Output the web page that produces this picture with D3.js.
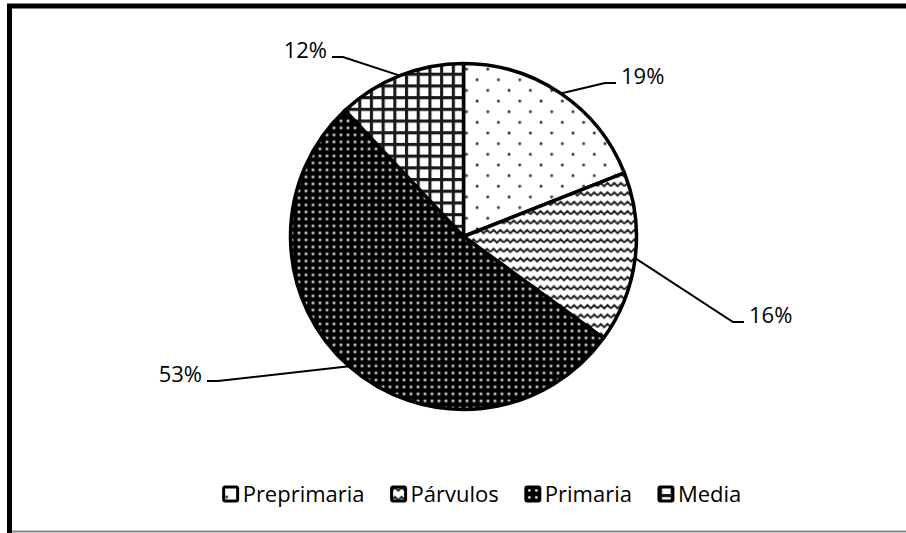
<!DOCTYPE html>
<html>
<head>
<meta charset="utf-8">
<script src="https://cdn.jsdelivr.net/npm/d3@7"></script>
<style>
  body { margin: 0; background: #fff; }
  text { font-family: "Open Sans", sans-serif; fill: #000; }
</style>
</head>
<body>
<div id="chart"></div>
<script>
var categories = ["Preprimaria", "Párvulos", "Primaria", "Media"];
var values = [19, 16, 53, 12];
var pctLabels = ["19%", "16%", "53%", "12%"];

function init(){
    var w = 906;
    var h = 533;
    var cx = 463.5, cy = 236.5, r = 173;
    var patterns = ["pDots", "pWave", "pDark", "pGrid"];

    var svg = d3.select("#chart")
                .append("svg")
                .attr("width", w)
                .attr("height", h);

    var defs = svg.append("defs");

    // light dots, staggered
    var p1 = defs.append("pattern").attr("id", "pDots")
        .attr("patternUnits", "userSpaceOnUse")
        .attr("width", 21.3).attr("height", 21.3);
    p1.append("rect").attr("width", 21.3).attr("height", 21.3).attr("fill", "#fff");
    p1.append("circle").attr("cx", 3).attr("cy", 3).attr("r", 1.5).attr("fill", "#333");
    p1.append("circle").attr("cx", 13.65).attr("cy", 13.65).attr("r", 1.5).attr("fill", "#333");

    // wave
    var p2 = defs.append("pattern").attr("id", "pWave")
        .attr("patternUnits", "userSpaceOnUse")
        .attr("width", 13.4).attr("height", 9.4);
    p2.append("rect").attr("width", 13.4).attr("height", 9.4).attr("fill", "#fff");
    p2.append("path").attr("d", "M0,6.2 L3.35,2.8 L6.7,6.2 L10.05,2.8 L13.4,6.2")
        .attr("fill", "none").attr("stroke", "#222").attr("stroke-width", 2);

    // dark with white dots
    var p3 = defs.append("pattern").attr("id", "pDark")
        .attr("patternUnits", "userSpaceOnUse")
        .attr("width", 7).attr("height", 7);
    p3.append("rect").attr("width", 7).attr("height", 7).attr("fill", "#000");
    p3.append("circle").attr("cx", 3.5).attr("cy", 3.5).attr("r", 1.4).attr("fill", "#d8d8d8");

    // grid
    var p4 = defs.append("pattern").attr("id", "pGrid")
        .attr("patternUnits", "userSpaceOnUse")
        .attr("width", 11.7).attr("height", 11.7);
    p4.append("rect").attr("width", 11.7).attr("height", 11.7).attr("fill", "#fff");
    p4.append("path").attr("d", "M1.5,0 V11.7 M0,1.5 H11.7")
        .attr("fill", "none").attr("stroke", "#1a1a1a").attr("stroke-width", 3.2);

    // frame
    svg.append("path")
        .attr("d", "M9.5," + h + " V6 H" + w)
        .attr("fill", "none").attr("stroke", "#000").attr("stroke-width", 5);
    svg.append("line")
        .attr("x1", 12).attr("x2", w).attr("y1", 531.5).attr("y2", 531.5)
        .attr("stroke", "#888").attr("stroke-width", 2);

    var pie = d3.pie().sort(null).value(function(d) { return d; });
    var arcs = pie(values);
    var arc = d3.arc().innerRadius(0).outerRadius(r);

    var g = svg.append("g").attr("transform", "translate(" + cx + "," + cy + ")");

    g.selectAll("path.slice")
        .data(arcs)
        .enter()
        .append("path")
        .attr("class", "slice")
        .attr("d", arc)
        .attr("fill", function(d, i) { return "url(#" + patterns[i] + ")"; })
        .attr("stroke", "#000")
        .attr("stroke-width", 3.5)
        .attr("stroke-linejoin", "round");

    // leader lines: elbow offset from centre, side of the text
    var elbows = [[141.5, -153.5, 1], [269.5, 85.5, 1], [-245.5, 144.5, -1], [-120.5, -179.5, -1]];

    arcs.forEach(function(d, i) {
        var a = (d.startAngle + d.endAngle) / 2;
        var sx = Math.sin(a) * r, sy = -Math.cos(a) * r;
        var e = elbows[i];
        var ex = e[0], ey = e[1], side = e[2];
        var hx = ex + side * 11;
        g.append("polyline")
            .attr("points", sx + "," + sy + " " + ex + "," + ey + " " + hx + "," + ey)
            .attr("fill", "none").attr("stroke", "#000").attr("stroke-width", 2);
        g.append("text")
            .attr("x", hx + side * 5)
            .attr("y", ey + 1)
            .attr("text-anchor", side > 0 ? "start" : "end")
            .style("font-size", "22px")
            .text(pctLabels[i]);
    });

    // legend
    var lg = svg.append("g");
    var gap = 27, box = 14, pad = 5;
    var items = lg.selectAll("g.item")
        .data(categories)
        .enter()
        .append("g")
        .attr("class", "item");
    items.append("rect")
        .attr("y", -box / 2)
        .attr("width", box).attr("height", box)
        .attr("rx", 1.5)
        .attr("fill", function(d, i) { return "url(#" + patterns[i] + ")"; })
        .attr("stroke", "#000").attr("stroke-width", 3);
    items.append("text")
        .attr("x", box + pad)
        .attr("y", 8)
        .style("font-size", "22px")
        .text(function(d) { return d; });

    var x = 0;
    items.each(function() {
        var bw = this.getBBox().width;
        d3.select(this).attr("transform", "translate(" + x + ",0)");
        x += bw + gap;
    });
    var total = x - gap;
    lg.attr("transform", "translate(" + (482.5 - total / 2) + ",494)");
}
window.onload = init;
</script>
</body>
</html>
